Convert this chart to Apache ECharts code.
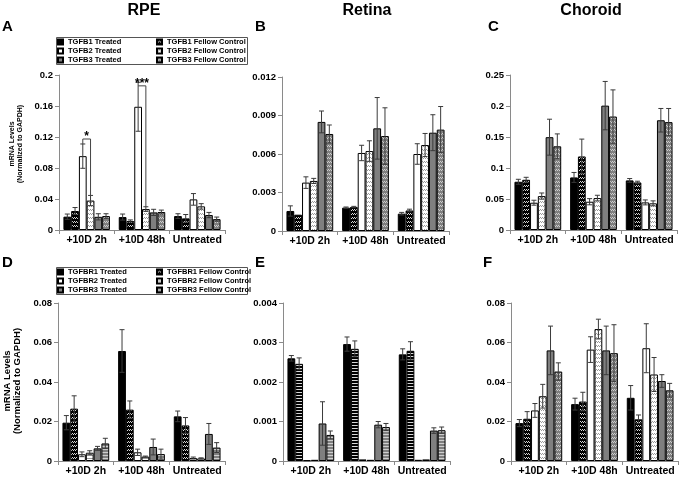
<!DOCTYPE html>
<html><head><meta charset="utf-8">
<script src="https://cdn.jsdelivr.net/npm/echarts@6/dist/echarts.min.js"></script>
<style>html,body{margin:0;padding:0;background:#fff}#c{width:680px;height:480px}</style>
</head><body><div id="c"></div>
<script>
const categories = ['+10D 2h', '+10D 48h', 'Untreated'];
const ligandNames = ['TGFB1 Treated','TGFB1 Fellow Control','TGFB2 Treated','TGFB2 Fellow Control','TGFB3 Treated','TGFB3 Fellow Control'];
const receptorNames = ['TGFBR1 Treated','TGFBR1 Fellow Control','TGFBR2 Treated','TGFBR2 Fellow Control','TGFBR3 Treated','TGFBR3 Fellow Control'];

// Panel A: RPE ligands (rows = series, cols = categories)
const rpeMean = [[0.0172,0.0167,0.018],[0.0245,0.0116,0.015],[0.0953,0.159,0.0395],[0.038,0.027,0.0305],[0.017,0.0227,0.0193],[0.018,0.0232,0.014]];
const rpeErr  = [[0.0034,0.0039,0.003],[0.0045,0.0014,0.005],[0.0157,0.0316,0.0075],[0.0066,0.003,0.0035],[0.004,0.004,0.0034],[0.003,0.0025,0.0027]];
// Panel B: Retina ligands
const retinaMean = [[0.00156,0.00182,0.00135],[0.00127,0.00187,0.0016],[0.00377,0.00608,0.006],[0.0039,0.00623,0.0067],[0.0085,0.008,0.00766],[0.00756,0.0074,0.0079]];
const retinaErr  = [[0.0004,0.00005,0.0001],[0,0.00005,0.0001],[0.00045,0.0006,0.0008],[0.0002,0.0008,0.0009],[0.00085,0.0024,0.0014],[0.0007,0.0022,0.0018]];
// Panel C: Choroid ligands
const choroidMean = [[0.0778,0.0848,0.08],[0.081,0.1186,0.0767],[0.044,0.0456,0.0445],[0.0547,0.0515,0.043],[0.1497,0.2006,0.177],[0.135,0.183,0.174]];
const choroidErr  = [[0.004,0.008,0.003],[0.004,0.028,0.002],[0.004,0.005,0.004],[0.005,0.0045,0.004],[0.029,0.039,0.019],[0.02,0.043,0.022]];
// Panel D: RPE receptors
const rpeRMean = [[0.0194,0.0557,0.0226],[0.0265,0.026,0.018],[0.0034,0.0044,0.0015],[0.0042,0.0022,0.0013],[0.0064,0.0071,0.0137],[0.0089,0.0035,0.0068]];
const rpeRErr  = [[0.0036,0.0108,0.0027],[0.0065,0.0044,0.004],[0.0012,0.0016,0.0005],[0.001,0.0003,0.0003],[0.001,0.004,0.0053],[0.0026,0.0025,0.0025]];
// Panel E: Retina receptors
const retinaRMean = [[0.0026,0.00296,0.0027],[0.00246,0.00284,0.00279],[0.00002,0.00004,0.00003],[0.00003,0.00003,0.00004],[0.00095,0.00092,0.00077],[0.00066,0.00086,0.00078]];
const retinaRErr  = [[0.00007,0.00018,0.00014],[0.00015,0.0002,0.00023],[0,0,0],[0,0,0],[0.00055,0.00008,0.00007],[0.0001,0.00009,0.00008]];
// Panel F: Choroid receptors
const choroidRMean = [[0.0192,0.0288,0.032],[0.0214,0.0301,0.0211],[0.0256,0.0564,0.0571],[0.0328,0.0668,0.0438],[0.056,0.056,0.0405],[0.0453,0.0546,0.0358]];
const choroidRErr  = [[0.0018,0.003,0.0062],[0.0036,0.0047,0.0022],[0.0035,0.0065,0.0124],[0.006,0.005,0.0086],[0.0123,0.0123,0.0032],[0.0044,0.0144,0.0035]];

// significance brackets in panel A (category, bracket level, label)
const sigCategory = [0, 1];
const sigLevel = [0.1174, 0.186];
const sigText = ['*', '***'];

const FONT = "'Liberation Sans', Arial, sans-serif";
const CAT_GAP = 0.16;

function makePattern(bg, fg, kind) {
  const c = document.createElement('canvas');
  if (kind === 'stripe') {
    c.width = 2; c.height = 3;
    const x = c.getContext('2d');
    x.fillStyle = bg; x.fillRect(0,0,2,3);
    x.fillStyle = fg; x.fillRect(0,2,2,1);
  } else {
    c.width = 4; c.height = 4;
    const x = c.getContext('2d');
    x.fillStyle = bg; x.fillRect(0,0,4,4);
    x.fillStyle = fg;
    x.fillRect(0,1,1,1); x.fillRect(1,2,1,1); x.fillRect(2,1,1,1); x.fillRect(3,2,1,1);
  }
  return { image: c, repeat: 'repeat' };
}

const panels = [
  { mean: rpeMean, err: rpeErr, names: ligandNames, max: 0.2, interval: 0.04, grid: {left:59, top:75, width:166, height:155}, pat: ['zig','zig','zig'] },
  { mean: retinaMean, err: retinaErr, names: ligandNames, max: 0.012, interval: 0.003, grid: {left:282, top:77, width:167, height:154}, pat: ['zig','zig','zig'] },
  { mean: choroidMean, err: choroidErr, names: ligandNames, max: 0.25, interval: 0.05, grid: {left:510, top:75, width:167, height:155}, pat: ['zig','zig','zig'] },
  { mean: rpeRMean, err: rpeRErr, names: receptorNames, max: 0.08, interval: 0.02, grid: {left:58, top:303, width:167, height:158}, pat: ['zig','stripe','stripe'] },
  { mean: retinaRMean, err: retinaRErr, names: receptorNames, max: 0.004, interval: 0.001, grid: {left:283, top:303, width:167, height:158}, pat: ['stripe','stripe','stripe'] },
  { mean: choroidRMean, err: choroidRErr, names: receptorNames, max: 0.08, interval: 0.02, grid: {left:511, top:303, width:167, height:158}, pat: ['zig','zig','zig'] }
];

function seriesColors(pat) {
  return [
    '#000000',
    makePattern('#000000', '#d8d8d8', pat[0]),
    '#ffffff',
    makePattern('#ffffff', '#9a9a9a', pat[1]),
    '#7f7f7f',
    makePattern('#7f7f7f', '#cfcfcf', pat[2])
  ];
}

function barCenter(api, cat, s, val) {
  const band = api.size([1, 0])[0];
  const c = api.coord([cat, val]);
  const total = band * (1 - CAT_GAP);
  const w = total / 6;
  return [c[0] - total / 2 + w * (s + 0.5), c[1]];
}

const grids = [], xAxes = [], yAxes = [], series = [];
panels.forEach((p, pi) => {
  grids.push(Object.assign({ containLabel: false }, p.grid));
  xAxes.push({
    type: 'category', gridIndex: pi, data: categories,
    axisLine: { lineStyle: { color: '#8a8a8a', width: 1 } },
    axisTick: { show: true, length: 4, lineStyle: { color: '#8a8a8a' } },
    axisLabel: { color: '#000', fontWeight: 'bold', fontSize: 10.5, fontFamily: FONT, margin: 5, interval: 0 }
  });
  yAxes.push({
    type: 'value', gridIndex: pi, min: 0, max: p.max, interval: p.interval,
    axisLine: { show: true, lineStyle: { color: '#8a8a8a', width: 1 } },
    axisTick: { show: true, length: 4, lineStyle: { color: '#8a8a8a' } },
    splitLine: { show: false },
    axisLabel: { color: '#000', fontWeight: 'bold', fontSize: 9.5, fontFamily: FONT, margin: 6,
      formatter: v => String(parseFloat(v.toFixed(6))) }
  });
  const colors = seriesColors(p.pat);
  p.mean.forEach((vals, s) => {
    series.push({
      type: 'bar', name: p.names[s], xAxisIndex: pi, yAxisIndex: pi,
      data: vals, barGap: '0%', barCategoryGap: (CAT_GAP * 100) + '%',
      itemStyle: { color: colors[s], borderColor: '#000', borderWidth: 1 },
      emphasis: { disabled: true }, animation: false, z: 2
    });
  });
  const errData = [];
  p.mean.forEach((vals, s) => {
    vals.forEach((m, c) => {
      const e = p.err[s][c];
      if (e > 0) errData.push([c, m - e, m + e, s]);
    });
  });
  series.push({
    type: 'custom', name: 'err' + pi, xAxisIndex: pi, yAxisIndex: pi,
    data: errData, encode: { x: 0, y: [1, 2] }, z: 5, animation: false, silent: true,
    renderItem: function (params, api) {
      const cat = api.value(0), lo = api.value(1), hi = api.value(2), s = api.value(3);
      const top = barCenter(api, cat, s, hi);
      const bot = barCenter(api, cat, s, lo);
      const x = top[0], hw = 2.5;
      const st = { stroke: '#3a3a3a', lineWidth: 1 };
      return { type: 'group', children: [
        { type: 'line', shape: { x1: x, y1: top[1], x2: x, y2: bot[1] }, style: st },
        { type: 'line', shape: { x1: x - hw, y1: top[1], x2: x + hw, y2: top[1] }, style: st },
        { type: 'line', shape: { x1: x - hw, y1: bot[1], x2: x + hw, y2: bot[1] }, style: st }
      ]};
    }
  });
});

// significance brackets (panel A, TGFB2 Treated vs TGFB2 Fellow Control)
const sigData = sigCategory.map((c, i) => [c, sigLevel[i], rpeMean[2][c] + rpeErr[2][c], rpeMean[3][c] + rpeErr[3][c], i]);
series.push({
  type: 'custom', name: 'sig', xAxisIndex: 0, yAxisIndex: 0, data: sigData,
  encode: { x: 0, y: 1 }, z: 6, animation: false, silent: true,
  renderItem: function (params, api) {
    const cat = api.value(0), lvl = api.value(1), lTop = api.value(2), rTop = api.value(3), idx = api.value(4);
    const L = barCenter(api, cat, 2, lvl), R = barCenter(api, cat, 3, lvl);
    const yl = barCenter(api, cat, 2, lTop)[1], yr = barCenter(api, cat, 3, rTop)[1];
    const st = { stroke: '#444', lineWidth: 1 };
    const ch = [
      { type: 'line', shape: { x1: L[0], y1: L[1], x2: R[0], y2: R[1] }, style: st },
      { type: 'line', shape: { x1: R[0], y1: R[1], x2: R[0], y2: Math.max(yr, R[1]) }, style: st },
      { type: 'text', style: { text: sigText[idx], x: (L[0] + R[0]) / 2, y: L[1] + 4, textAlign: 'center', textVerticalAlign: 'bottom', font: 'bold 12px ' + FONT, fill: '#000' } }
    ];
    if (yl > L[1]) ch.push({ type: 'line', shape: { x1: L[0], y1: L[1], x2: L[0], y2: yl }, style: st });
    return { type: 'group', children: ch };
  }
});

function legendCfg(left, top, data) {
  return {
    left: left, top: top, orient: 'vertical', data: data, icon: 'rect',
    itemWidth: 5, itemHeight: 5, itemGap: 0, padding: 0, selectedMode: false,
    textStyle: { fontSize: 7.5, fontWeight: 'bold', fontFamily: FONT, color: '#000', lineHeight: 9 }
  };
}

const legends = [
  legendCfg(57, 37.5, [ligandNames[0], ligandNames[2], ligandNames[4]]),
  legendCfg(156, 37.5, [ligandNames[1], ligandNames[3], ligandNames[5]]),
  legendCfg(57, 267.5, [receptorNames[0], receptorNames[2], receptorNames[4]]),
  legendCfg(156, 267.5, [receptorNames[1], receptorNames[3], receptorNames[5]])
];

function txt(text, x, y, size, align, rot, lh) {
  return { type: 'text', x: x, y: y, rotation: rot || 0, silent: true,
    style: { text: text, font: 'bold ' + size + 'px ' + FONT, fill: '#000', textAlign: align || 'center', textVerticalAlign: 'middle', lineHeight: lh || (size + 1) } };
}

const graphics = [
  txt('RPE', 144, 11, 16), txt('Retina', 367, 11, 16), txt('Choroid', 591, 11, 16),
  txt('A', 2, 27, 15, 'left'), txt('B', 255, 27, 15, 'left'), txt('C', 488, 27, 15, 'left'),
  txt('D', 2, 263, 15, 'left'), txt('E', 255, 263, 15, 'left'), txt('F', 483, 263, 15, 'left'),
  txt('mRNA Levels\n(Normalized to GAPDH)', 16.5, 144, 7, 'center', Math.PI / 2, 8),
  txt('mRNA Levels\n(Normalized to GAPDH)', 12, 381, 9.5, 'center', Math.PI / 2, 10),
  { type: 'rect', shape: { x: 56.5, y: 37.5, width: 191, height: 27 }, style: { fill: null, stroke: '#555', lineWidth: 1 }, silent: true },
  { type: 'rect', shape: { x: 56.5, y: 267.5, width: 191, height: 27 }, style: { fill: null, stroke: '#555', lineWidth: 1 }, silent: true }
];

const chart = echarts.init(document.getElementById('c'), null, { renderer: 'canvas' });
chart.setOption({
  backgroundColor: '#fff', animation: false,
  grid: grids, xAxis: xAxes, yAxis: yAxes, series: series,
  legend: legends, graphic: graphics, tooltip: { show: false }
});
</script></body></html>
